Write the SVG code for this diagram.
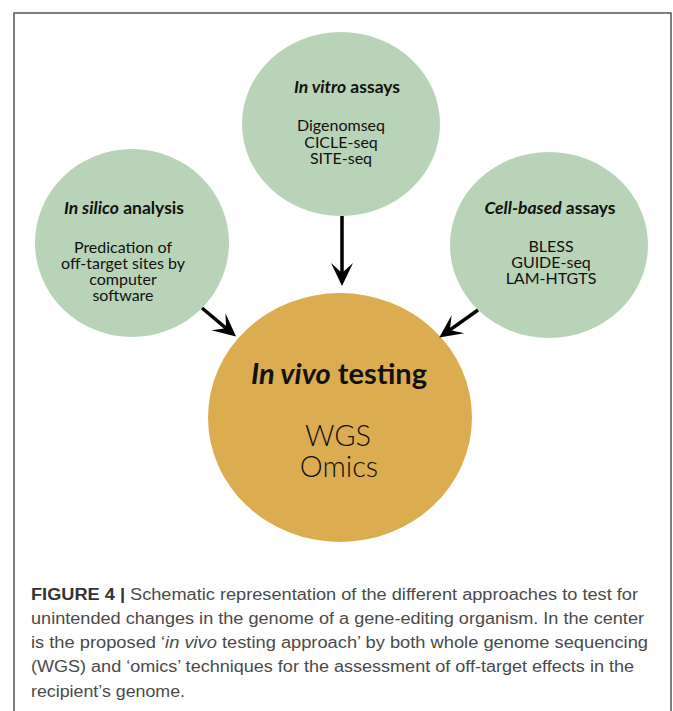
<svg xmlns="http://www.w3.org/2000/svg" width="673" height="711" viewBox="0 0 673 711">
<style>
.green{fill:#b9d3b8}
.gold{fill:#dcac50}
.t{font-family:Lato,"Open Sans","Liberation Sans",sans-serif;fill:#111;text-anchor:middle}
.title{font-size:17.5px;font-weight:700}
.body{font-size:16px;font-weight:400}
.big{font-size:29px;font-weight:700}
.bigbody{font-size:29px;font-weight:300}
.arrow{stroke:#000;stroke-width:3.5;fill:none}
.cap{font-family:"Liberation Sans Narrow","Liberation Sans",Arial,sans-serif;font-size:16px;fill:#4a4a4a}
</style>
<defs>
<marker id="ah" markerUnits="userSpaceOnUse" markerWidth="40" markerHeight="40" viewBox="-25 -15 40 30" refX="0" refY="0" orient="auto">
<path d="M5,0 L-18,-11 L-8,0 L-18,11 Z" fill="#000"/>
</marker>
</defs>
<rect width="673" height="711" fill="#fff"/>
<path d="M14,711 V13 H671 V711" fill="none" stroke="#555" stroke-width="1.5"/>

<g id="in-vitro">
<ellipse class="green" cx="341" cy="124" rx="99" ry="92"/>
<text class="t title" x="347" y="93"><tspan font-style="italic">In vitro</tspan> assays</text>
<text class="t body" x="341" y="131">Digenomseq</text>
<text class="t body" x="341" y="147.5">CICLE-seq</text>
<text class="t body" x="341" y="164">SITE-seq</text>
</g>

<g id="in-silico">
<ellipse class="green" cx="132" cy="243" rx="97" ry="94"/>
<text class="t title" x="124" y="214"><tspan font-style="italic">In silico</tspan> analysis</text>
<text class="t body" x="123" y="253">Predication of</text>
<text class="t body" x="123" y="269">off-target sites by</text>
<text class="t body" x="123" y="285">computer</text>
<text class="t body" x="123" y="301">software</text>
</g>

<g id="cell-based">
<ellipse class="green" cx="549" cy="245" rx="99" ry="93"/>
<text class="t title" x="550" y="214"><tspan font-style="italic">Cell-based</tspan> assays</text>
<text class="t body" x="551" y="252">BLESS</text>
<text class="t body" x="551" y="268">GUIDE-seq</text>
<text class="t body" x="551" y="284">LAM-HTGTS</text>
</g>

<g id="in-vivo">
<ellipse class="gold" cx="340" cy="417.5" rx="132" ry="124.5"/>
<text class="t big" x="339" y="384"><tspan font-style="italic">In vivo</tspan> testing</text>
<text class="t bigbody" x="338" y="446">WGS</text>
<text class="t bigbody" x="339" y="477">Omics</text>
</g>

<g id="connectors">
<line class="arrow" x1="342" y1="216" x2="342" y2="281" marker-end="url(#ah)"/>
<line class="arrow" x1="202" y1="308" x2="232.2" y2="333.3" marker-end="url(#ah)"/>
<line class="arrow" x1="478" y1="310" x2="443.3" y2="334.6" marker-end="url(#ah)"/>
</g>

<g id="caption">
<text class="cap" x="31" y="600" textLength="607" lengthAdjust="spacingAndGlyphs"><tspan font-weight="700" fill="#333">FIGURE 4 |</tspan> Schematic representation of the different approaches to test for</text>
<text class="cap" x="31" y="624" textLength="613" lengthAdjust="spacingAndGlyphs">unintended changes in the genome of a gene-editing organism. In the center</text>
<text class="cap" x="31" y="648" textLength="617" lengthAdjust="spacingAndGlyphs">is the proposed ‘<tspan font-style="italic">in vivo</tspan> testing approach’ by both whole genome sequencing</text>
<text class="cap" x="31" y="672" textLength="603" lengthAdjust="spacingAndGlyphs">(WGS) and ‘omics’ techniques for the assessment of off-target effects in the</text>
<text class="cap" x="31" y="697" textLength="154" lengthAdjust="spacingAndGlyphs">recipient’s genome.</text>
</g>
</svg>
